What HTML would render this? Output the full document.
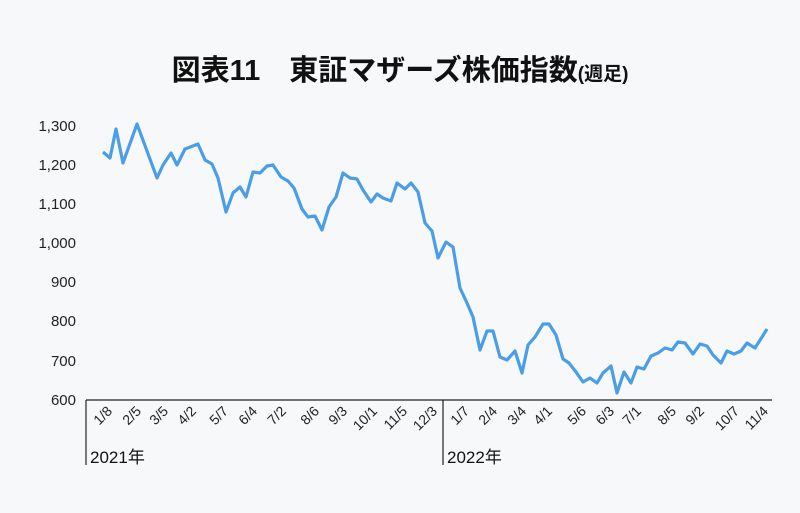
<!DOCTYPE html>
<html><head><meta charset="utf-8"><style>
html,body{margin:0;padding:0;background:#f7f8fa;}
svg{display:block;font-family:"Liberation Sans","Noto Sans CJK JP",sans-serif;}
</style></head><body>
<svg width="800" height="513" viewBox="0 0 800 513" xmlns="http://www.w3.org/2000/svg">
<rect width="800" height="513" fill="#f7f8fa"/>
<text x="400" y="80" text-anchor="middle" font-size="29" font-weight="bold" fill="#111">図表11　東証マザーズ株価指数<tspan font-size="19">(週足)</tspan></text>
<g font-size="15" fill="#222" text-anchor="end">
<text x="76" y="131">1,300</text><text x="76" y="170">1,200</text><text x="76" y="209">1,100</text>
<text x="76" y="248">1,000</text><text x="76" y="287">900</text><text x="76" y="326">800</text>
<text x="76" y="366">700</text><text x="76" y="405">600</text>
</g>
<line x1="86" y1="400" x2="772" y2="400" stroke="#222" stroke-width="1.2"/>
<line x1="86" y1="400" x2="86" y2="465" stroke="#222" stroke-width="1.2"/>
<line x1="443" y1="400" x2="443" y2="465" stroke="#222" stroke-width="1.2"/>
<polyline fill="none" stroke="#4a9ee8" stroke-width="3.2" stroke-linejoin="round" points="103,152 110,158 116,129 123,163 137,124 157,178 163,165 171,153 177,165 185,149 198,144 205,160 212,164 218,178 226,212 233,193 240,187 246,197 253,172 260,173 267,166 273,165 281,177 288,181 294,188 302,209 308,217 315,216 322,230 329,207 336,197 343,173 350,178 357,179 363,190 371,202 377,194 383,198 391,201 397,183 405,189 411,183 418,192 425,223 432,231 438,258 446,242 453,247 460,288 467,303 473,317 480,350 487,331 493,331 500,357 507,360 515,351 522,373 528,345 535,337 543,324 549,324 556,335 563,359 569,363 576,372 583,382 590,378 597,383 603,373 611,366 617,393 624,372 631,383 637,367 644,369 651,356 658,353 665,348 672,350 678,342 685,343 693,354 700,344 707,346 713,355 721,363 727,351 734,354 741,351 747,343 755,348 762,337 767,329"/>
<g font-size="14" fill="#222" text-anchor="end">
<text transform="translate(113,412) rotate(-45)">1/8</text>
<text transform="translate(142,412) rotate(-45)">2/5</text>
<text transform="translate(169,412) rotate(-45)">3/5</text>
<text transform="translate(197,412) rotate(-45)">4/2</text>
<text transform="translate(229,412) rotate(-45)">5/7</text>
<text transform="translate(258,412) rotate(-45)">6/4</text>
<text transform="translate(287,412) rotate(-45)">7/2</text>
<text transform="translate(320,412) rotate(-45)">8/6</text>
<text transform="translate(348,412) rotate(-45)">9/3</text>
<text transform="translate(378,412) rotate(-45)">10/1</text>
<text transform="translate(408,412) rotate(-45)">11/5</text>
<text transform="translate(438,412) rotate(-45)">12/3</text>
<text transform="translate(470,412) rotate(-45)">1/7</text>
<text transform="translate(498,412) rotate(-45)">2/4</text>
<text transform="translate(527,412) rotate(-45)">3/4</text>
<text transform="translate(553,412) rotate(-45)">4/1</text>
<text transform="translate(587,412) rotate(-45)">5/6</text>
<text transform="translate(615,412) rotate(-45)">6/3</text>
<text transform="translate(642,412) rotate(-45)">7/1</text>
<text transform="translate(677,412) rotate(-45)">8/5</text>
<text transform="translate(705,412) rotate(-45)">9/2</text>
<text transform="translate(740,412) rotate(-45)">10/7</text>
<text transform="translate(769,412) rotate(-45)">11/4</text>
</g>
<text x="90" y="463" font-size="17" fill="#111">2021年</text>
<text x="447" y="463" font-size="17" fill="#111">2022年</text>
</svg>
</body></html>
